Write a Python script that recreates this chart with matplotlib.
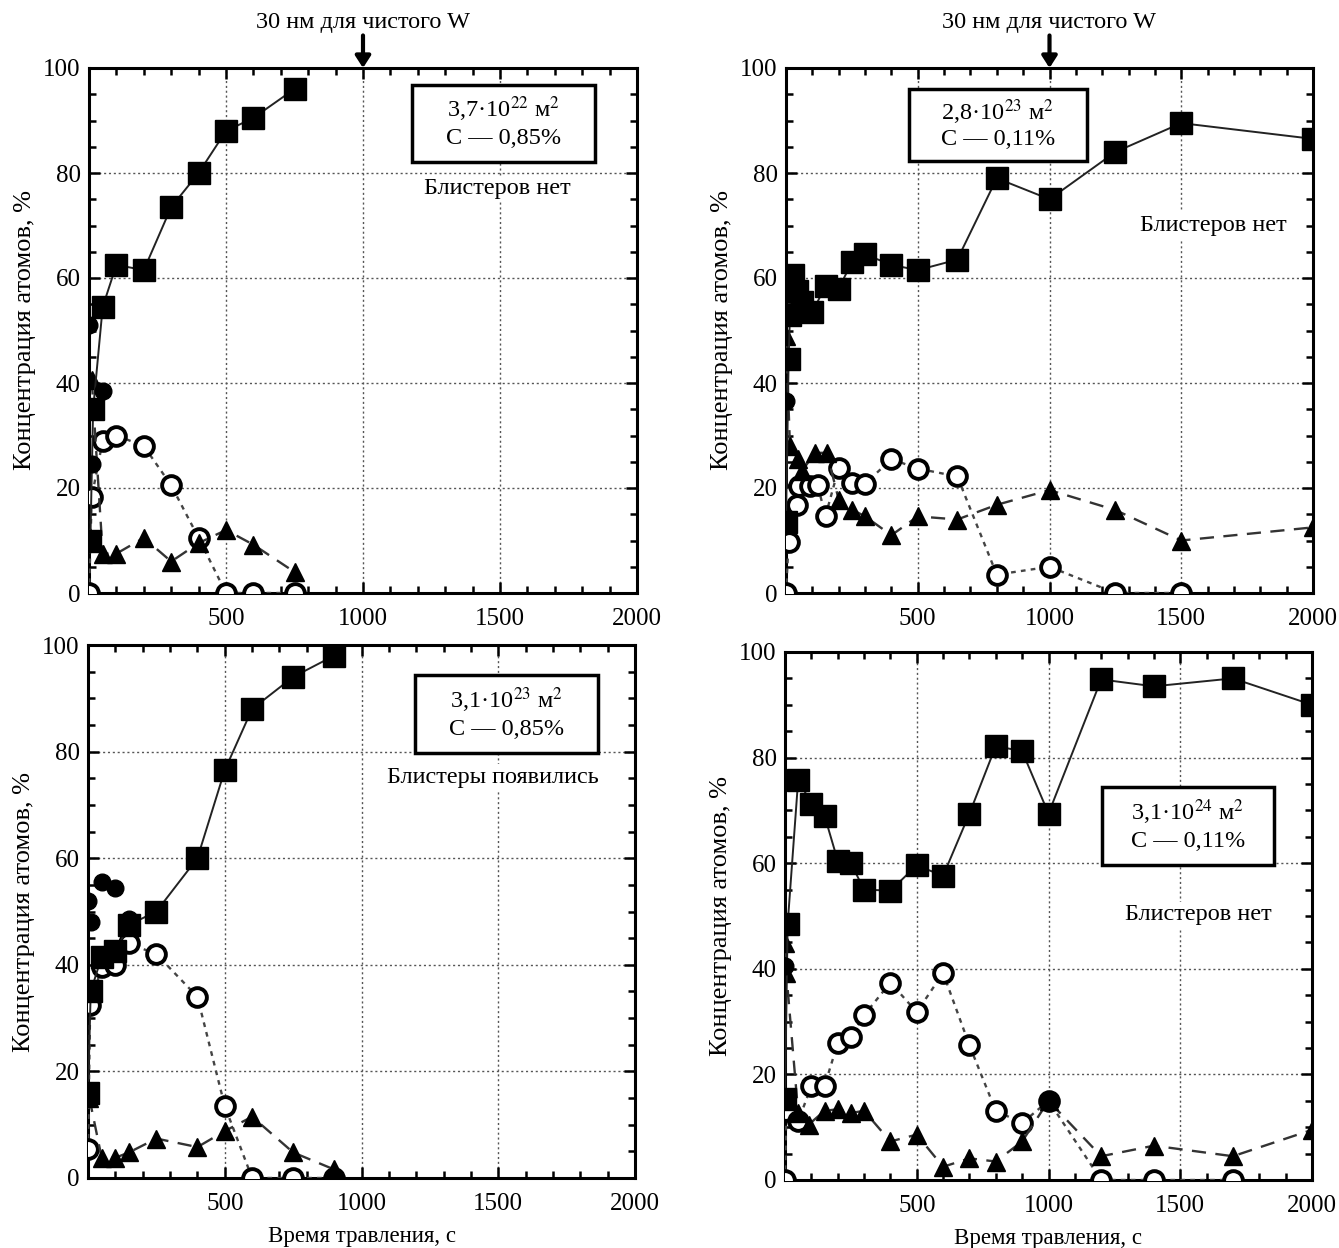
import matplotlib
matplotlib.use("Agg")
import matplotlib.pyplot as plt
from matplotlib.patches import Rectangle
from matplotlib.ticker import MultipleLocator

plt.rcParams['font.family'] = ['Liberation Serif', 'DejaVu Serif']
plt.rcParams['mathtext.fontset'] = 'stix'

# ---------------- data ----------------
# Panel A: 3,7e22, C 0.85%
a_sq_x = [5, 15, 50, 100, 200, 300, 400, 500, 600, 750]
a_sq_y = [10, 35, 54.5, 62.5, 61.5, 73.5, 80, 88, 90.5, 96]
a_oc_x = [0, 10, 50, 100, 200, 300, 400, 500, 600, 750]
a_oc_y = [0, 18.3, 29, 30, 28, 20.5, 10.5, 0, 0, 0]
a_tr_x = [10, 50, 100, 200, 300, 400, 500, 600, 750]
a_tr_y = [40.5, 7.5, 7.5, 10.5, 6, 9.5, 12, 9.2, 4]
a_fc_x = [0, 10, 50]
a_fc_y = [51, 24.5, 38.5]

# Panel B: 2,8e23, C 0.11%
b_sq_x = [0, 10, 15, 25, 40, 60, 100, 150, 200, 250, 300, 400, 500, 650, 800, 1000, 1250, 1500, 2000]
b_sq_y = [13.5, 44.5, 53, 60.5, 57.5, 55.5, 53.5, 58.5, 58, 63, 64.5, 62.5, 61.5, 63.5, 79, 75, 84, 89.5, 86.5]
b_oc_x = [0, 10, 15, 40, 50, 90, 120, 150, 200, 250, 300, 400, 500, 650, 800, 1000, 1250, 1500]
b_oc_y = [0, 9.8, 18.7, 16.8, 20.3, 20.3, 20.5, 14.7, 23.8, 21, 20.8, 25.5, 23.7, 22.2, 3.5, 5, 0, 0]
b_tr_x = [0, 15, 45, 60, 110, 155, 200, 250, 300, 400, 500, 650, 800, 1000, 1250, 1500, 2000]
b_tr_y = [49, 28, 25.5, 23.2, 26.7, 26.7, 17.8, 15.9, 14.6, 11, 14.6, 14, 16.8, 19.6, 15.8, 10, 12.5]
b_fc_x = [0]
b_fc_y = [36.5]

# Panel C: 3,1e23, C 0.85%
c_sq_x = [0, 10, 50, 100, 150, 250, 400, 500, 600, 750, 900]
c_sq_y = [16, 35, 41.5, 42.5, 47.5, 50, 60, 76.5, 88, 94, 98]
c_oc_x = [0, 8, 50, 100, 150, 250, 400, 500, 600, 750, 900]
c_oc_y = [5.5, 32.5, 39.5, 40, 44, 42, 34, 13.5, 0, 0, 0]
c_tr_x = [5, 50, 100, 150, 250, 400, 500, 600, 750, 900]
c_tr_y = [15, 3.8, 3.8, 4.8, 7.4, 5.8, 8.8, 11.5, 4.8, 1.6]
c_fc_x = [0, 10, 50, 100, 150]
c_fc_y = [52, 48, 55.5, 54.5, 48.5]

# Panel D: 3,1e24, C 0.11%
d_sq_x = [0, 10, 50, 100, 150, 200, 250, 300, 400, 500, 600, 700, 800, 900, 1000, 1200, 1400, 1700, 2000]
d_sq_y = [15.3, 48.4, 75.8, 71.3, 69, 60.5, 60, 55, 54.8, 59.6, 57.6, 69.4, 82.2, 81.2, 69.4, 94.8, 93.5, 95, 90]
d_oc_x = [0, 5, 50, 100, 150, 200, 250, 300, 400, 500, 600, 700, 800, 900, 1000, 1200, 1400, 1700]
d_oc_y = [0, 13, 11.1, 17.8, 17.8, 25.9, 27.1, 31.2, 37.4, 31.8, 39.2, 25.5, 13.1, 10.8, 15, 0, 0, 0]
d_tr_x = [0, 5, 50, 90, 150, 200, 250, 300, 400, 500, 600, 700, 800, 900, 1000, 1200, 1400, 1700, 2000]
d_tr_y = [44.9, 39.2, 12.7, 10.5, 13.1, 13.4, 12.7, 13.1, 7.3, 8.6, 2.5, 4.1, 3.5, 7.3, 15, 4.5, 6.5, 4.5, 9.5]
d_fc_x = [0, 1000]
d_fc_y = [40.5, 15]

labels_dose = ['3,7·10$^{22}$ м$^2$', '2,8·10$^{23}$ м$^2$', '3,1·10$^{23}$ м$^2$', '3,1·10$^{24}$ м$^2$']
labels_c = ['С — 0,85%', 'С — 0,11%', 'С — 0,85%', 'С — 0,11%']
labels_blist = ['Блистеров нет', 'Блистеров нет', 'Блистеры появились', 'Блистеров нет']
arrow_text = '30 нм для чистого W'
ylabel = 'Концентрация атомов, %'
xlabel = 'Время травления, с'
xticks = [500, 1000, 1500, 2000]
yticks = [0, 20, 40, 60, 80, 100]

panels = [
    (a_sq_x, a_sq_y, a_oc_x, a_oc_y, a_tr_x, a_tr_y, a_fc_x, a_fc_y),
    (b_sq_x, b_sq_y, b_oc_x, b_oc_y, b_tr_x, b_tr_y, b_fc_x, b_fc_y),
    (c_sq_x, c_sq_y, c_oc_x, c_oc_y, c_tr_x, c_tr_y, c_fc_x, c_fc_y),
    (d_sq_x, d_sq_y, d_oc_x, d_oc_y, d_tr_x, d_tr_y, d_fc_x, d_fc_y),
]

W, H = 1339, 1248
fig = plt.figure(figsize=(W / 100, H / 100), dpi=100)

# axes rectangles in pixels: left, right, top, bottom
rects_px = [(89, 637, 68, 593), (786, 1313, 68, 593),
            (88, 635, 645, 1178), (785, 1312, 652, 1180)]
box_pos = [(1180, 82.1, 667, 14.7), (466, 82.3, 677, 13.7),
           (1196, 79.7, 668, 14.7), (1203, 59.7, 651, 14.7)]
blist_pos = [(1490, 77), (1620, 70), (1479, 75.2), (1569, 50.2)]

for i, (rect, data) in enumerate(zip(rects_px, panels)):
    l, r, t, b = rect
    ax = fig.add_axes([l / W, 1 - b / H, (r - l) / W, (b - t) / H])
    sqx, sqy, ocx, ocy, trx, try_, fcx, fcy = data
    ax.plot(sqx, sqy, color='#222222', lw=1.4, ls='-', marker='s', ms=15.5,
            mfc='black', mec='black', zorder=5)
    ax.plot(ocx, ocy, color='#444444', lw=1.7, ls=(0, (2, 2.2)), marker='o', ms=13.5,
            mfc='white', mec='black', mew=2.8, zorder=4)
    ax.plot(trx, try_, color='#333333', lw=1.7, ls=(0, (6, 4)), marker='^', ms=13.5,
            mfc='black', mec='black', zorder=4)
    ax.plot(fcx, fcy, ls='none', marker='o', ms=12, mfc='black', mec='black', zorder=6)

    ax.set_xlim(0, 2000)
    ax.set_ylim(0, 100)
    ax.set_xticks(xticks)
    ax.set_yticks(yticks)
    ax.xaxis.set_minor_locator(MultipleLocator(100))
    ax.yaxis.set_minor_locator(MultipleLocator(5))
    ax.tick_params(which='both', direction='in', top=True, right=True,
                   width=1.8, labelsize=18)
    ax.tick_params(which='major', length=8)
    ax.tick_params(which='minor', length=5)
    ax.tick_params(axis='x', pad=11)
    ax.tick_params(axis='y', pad=6)
    for s in ax.spines.values():
        s.set_linewidth(2.2)
    ax.grid(True, which='major', color='#555555', ls=(0, (1.5, 2)), lw=1.0)
    ax.set_ylabel(ylabel, fontsize=19, labelpad=5)
    if i >= 2:
        ax.set_xlabel(xlabel, fontsize=16.5, labelpad=8)

    bx, by, bw, bh = box_pos[i]
    ax.add_patch(Rectangle((bx, by), bw, bh, fill=True, facecolor='white',
                           edgecolor='black', lw=2.5, zorder=7))
    ax.text(bx + bw / 2, by + bh * 0.68, labels_dose[i], ha='center', va='center',
            fontsize=17.5, zorder=8)
    ax.text(bx + bw / 2, by + bh * 0.30, labels_c[i], ha='center', va='center',
            fontsize=17.5, zorder=8)
    ax.text(blist_pos[i][0], blist_pos[i][1], labels_blist[i], ha='center', va='center',
            fontsize=17.5, zorder=8,
            bbox=dict(facecolor='white', edgecolor='none', pad=2))

    if i < 2:
        ax.annotate('', xy=(1000, 100), xytext=(1000, 106.2), xycoords='data',
                    arrowprops=dict(arrowstyle='-|>,head_length=0.7,head_width=0.45',
                                    lw=3, color='black', shrinkA=0, shrinkB=0),
                    annotation_clip=False)
        ax.text(1000, 108.6, arrow_text, ha='center', va='center', fontsize=17.5,
                clip_on=False)

fig.savefig('out.png', dpi=100)
